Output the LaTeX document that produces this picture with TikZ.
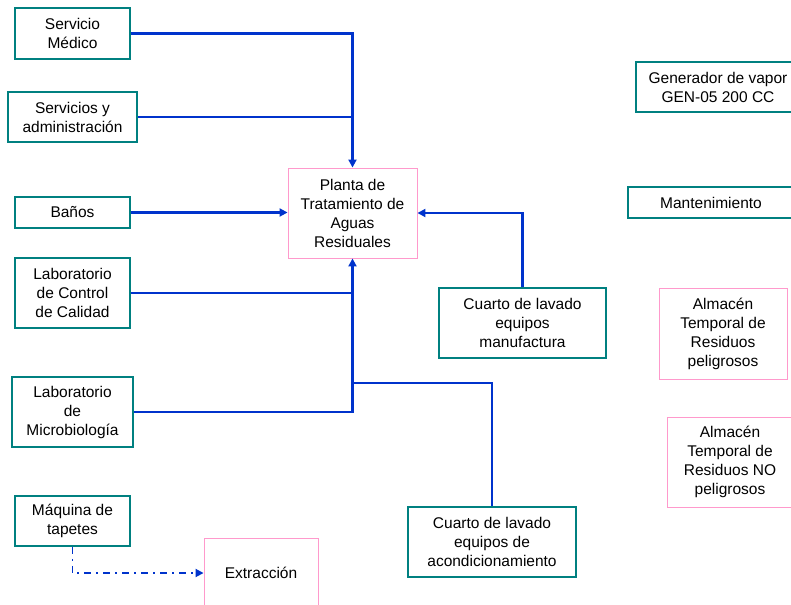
\documentclass[tikz,border=0pt]{standalone}
\usepackage{fontspec}
\setmainfont{Liberation Sans}
\usetikzlibrary{arrows.meta}
\definecolor{tealb}{RGB}{0,128,128}
\definecolor{pinkb}{RGB}{255,153,204}
\definecolor{flowblue}{RGB}{0,51,204}
\tikzset{
  base/.style={align=center, inner sep=0pt, font=\fontsize{15.5}{19}\selectfont, fill=white},
  tbox/.style={base, draw=tealb, line width=1.6pt},
  pbox/.style={base, draw=pinkb, line width=0.9pt},
  wire/.style={draw=flowblue, line width=2.6pt},
  flow/.style={wire, -{Triangle[length=8pt,width=8pt]}},
  dflow/.style={draw=flowblue, line width=1.8pt, dash pattern=on 7pt off 5pt on 2pt off 5pt, -{Triangle[length=8pt,width=8pt]}}
}
\begin{document}
\begin{tikzpicture}[x=1pt,y=-1pt]
\useasboundingbox (0,0) rectangle (791,604);
\clip (0,0) rectangle (791,604);
\node[tbox, minimum width=115pt, minimum height=51pt] (med) at (72.5,33.5) {Servicio\\Médico};
\node[tbox, minimum width=129pt, minimum height=50pt] (adm) at (72.5,117) {Servicios y\\administración};
\node[tbox, minimum width=115pt, minimum height=31pt] (ban) at (72.5,212.5) {Baños};
\node[tbox, minimum width=115pt, minimum height=70pt] (ctl) at (72.5,293) {Laboratorio\\de Control\\de Calidad};
\node[tbox, minimum width=121pt, minimum height=70pt] (mic) at (72.5,412) {Laboratorio\\de\\Microbiología};
\node[tbox, minimum width=115pt, minimum height=50pt] (maq) at (72.5,521) {Máquina de\\tapetes};
\node[pbox, minimum width=114pt, minimum height=70pt] (ext) at (261,573) {Extracción};
\node[pbox, minimum width=129pt, minimum height=90pt] (pta) at (352.5,213) {Planta de\\Tratamiento de\\Aguas\\Residuales};
\node[tbox, minimum width=167pt, minimum height=70pt] (mnf) at (522.5,323) {Cuarto de lavado\\equipos\\manufactura};
\node[tbox, minimum width=168pt, minimum height=70pt] (acd) at (492,542) {Cuarto de lavado\\equipos de\\acondicionamiento};
\node[tbox, minimum width=164pt, minimum height=50pt] (gen) at (718,87) {Generador de vapor\\GEN-05 200 CC};
\node[tbox, minimum width=166pt, minimum height=31pt] (mnt) at (711,202.5) {Mantenimiento};
\node[pbox, minimum width=128pt, minimum height=91pt] (alp) at (723,333.5) {Almacén\\Temporal de\\Residuos\\peligrosos};
\node[pbox, minimum width=126pt, minimum height=90pt] (aln) at (730,462) {Almacén\\Temporal de\\Residuos NO\\peligrosos};
\coordinate (j) at (352.5,383);
\draw[flow] (med.east) -| (pta.north);
\draw[wire] (adm.east) -- (adm.east -| pta.north);
\draw[flow] (ban.east) -- (ban.east -| pta.west);
\draw[wire] (ctl.east) -- (ctl.east -| pta.south);
\draw[flow] (mic.east) -| (pta.south);
\draw[wire] (acd.north) |- (j);
\draw[flow] (mnf.north) |- (pta.east);
\draw[dflow] (maq.south) |- (ext.west);
\end{tikzpicture}
\end{document}
